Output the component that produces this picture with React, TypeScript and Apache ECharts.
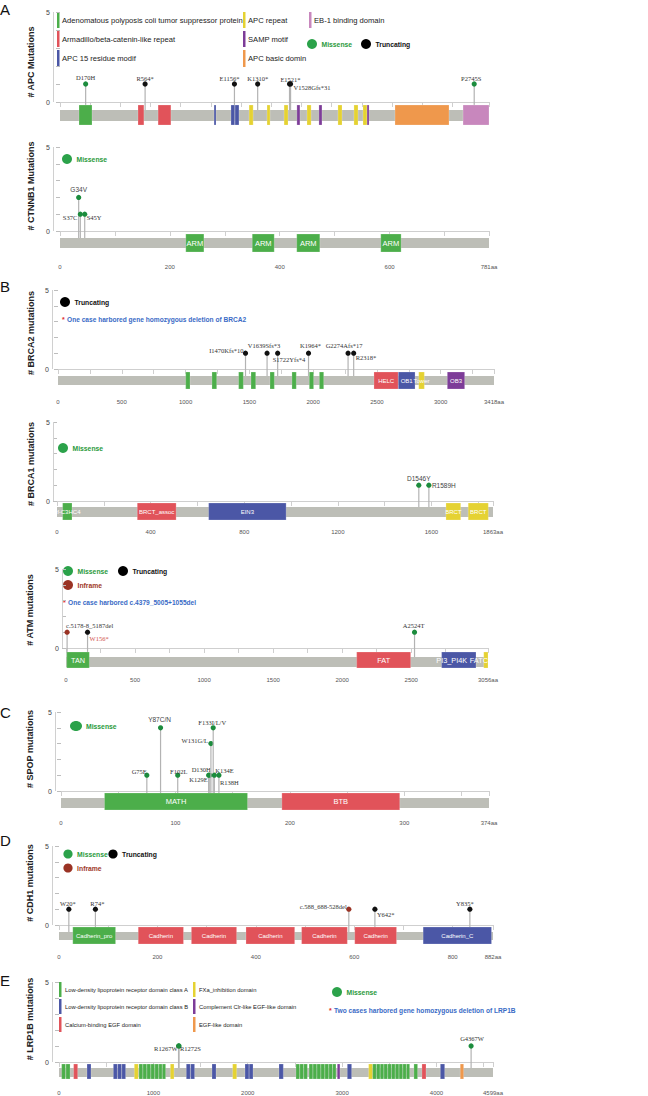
import React, { useEffect, useRef } from "react";
import * as echarts from "echarts";

type Mut = [string, number, number, string];
type Dom = [number, number, string, string];

// ---------------- DATA ----------------
const APC_LENGTH = 2843;
const APC_MUTATIONS: Mut[] = [
  ["D170H", 170, 1, "missense"],
  ["R564*", 564, 1, "truncating"],
  ["E1156*", 1156, 1, "truncating"],
  ["K1310*", 1310, 1, "truncating"],
  ["E1521*", 1521, 1, "truncating"],
  ["V1528Gfs*31", 1528, 1, "truncating"],
  ["P2745S", 2745, 1, "missense"],
];
const APC_DOMAINS: Dom[] = [
  [126, 212, "green", ""],
  [517, 556, "red", ""],
  [650, 735, "red", ""],
  [1021, 1034, "blue", ""],
  [1133, 1158, "blue", ""],
  [1160, 1186, "blue", ""],
  [1253, 1280, "yellow", ""],
  [1372, 1392, "yellow", ""],
  [1485, 1511, "yellow", ""],
  [1570, 1590, "purple", ""],
  [1637, 1664, "yellow", ""],
  [1716, 1736, "purple", ""],
  [1842, 1869, "yellow", ""],
  [1948, 1975, "yellow", ""],
  [2008, 2035, "yellow", ""],
  [2035, 2048, "purple", ""],
  [2220, 2578, "orange", ""],
  [2671, 2843, "pink", ""],
];
const APC_TICKS = [0, 200, 400, 600, 800, 1000, 1200, 1400, 1600, 1800, 2000, 2200, 2400, 2600, 2843];
const APC_TICK_LABELS: number[] = [];

const CTNNB1_LENGTH = 781;
const CTNNB1_MUTATIONS: Mut[] = [
  ["G34V", 34, 2, "missense"],
  ["S37C", 37, 1, "missense"],
  ["S45Y", 45, 1, "missense"],
];
const CTNNB1_DOMAINS: Dom[] = [
  [229, 262, "green", "ARM"],
  [350, 390, "green", "ARM"],
  [431, 473, "green", "ARM"],
  [584, 621, "green", "ARM"],
];
const CTNNB1_TICKS = [0, 100, 200, 300, 400, 500, 600, 700, 781];
const CTNNB1_TICK_LABELS = [0, 200, 400, 600, 781];

const BRCA2_LENGTH = 3418;
const BRCA2_MUTATIONS: Mut[] = [
  ["I1470Kfs*10", 1470, 1, "truncating"],
  ["V1639Sfs*3", 1639, 1, "truncating"],
  ["S1722Yfs*4", 1722, 1, "truncating"],
  ["K1964*", 1964, 1, "truncating"],
  ["G2274Afs*17", 2274, 1, "truncating"],
  ["R2318*", 2318, 1, "truncating"],
];
const BRCA2_DOMAINS: Dom[] = [
  [1001, 1035, "green", ""],
  [1207, 1244, "green", ""],
  [1416, 1453, "green", ""],
  [1513, 1550, "green", ""],
  [1662, 1696, "green", ""],
  [1834, 1868, "green", ""],
  [1970, 2004, "green", ""],
  [2049, 2083, "green", ""],
  [2477, 2668, "red", "HELC"],
  [2668, 2799, "blue", "OB1"],
  [2828, 2872, "yellow", "Tower"],
  [3052, 3188, "purple", "OB3"],
];
const BRCA2_TICKS = [0, 250, 500, 750, 1000, 1250, 1500, 1750, 2000, 2250, 2500, 2750, 3000, 3250, 3418];
const BRCA2_TICK_LABELS = [0, 500, 1000, 1500, 2000, 2500, 3000, 3418];

const BRCA1_LENGTH = 1863;
const BRCA1_MUTATIONS: Mut[] = [
  ["D1546Y", 1546, 1, "missense"],
  ["R1589H", 1589, 1, "missense"],
];
const BRCA1_DOMAINS: Dom[] = [
  [24, 64, "green", "zf-C3HC4"],
  [343, 509, "red", "BRCT_assoc"],
  [648, 979, "blue", "EIN3"],
  [1662, 1725, "yellow", "BRCT"],
  [1757, 1843, "yellow", "BRCT"],
];
const BRCA1_TICKS = [0, 200, 400, 600, 800, 1000, 1200, 1400, 1600, 1800, 1863];
const BRCA1_TICK_LABELS = [0, 400, 800, 1200, 1600, 1863];

const ATM_LENGTH = 3056;
const ATM_MUTATIONS: Mut[] = [
  ["c.5178-8_5187del", 8, 1, "inframe"],
  ["W156*", 156, 1, "truncating"],
  ["A2524T", 2524, 1, "missense"],
];
const ATM_DOMAINS: Dom[] = [
  [5, 169, "green", "TAN"],
  [2105, 2496, "red", "FAT"],
  [2720, 2969, "blue", "PI3_PI4K"],
  [3025, 3056, "yellow", "FATC"],
];
const ATM_TICKS = [0, 250, 500, 750, 1000, 1250, 1500, 1750, 2000, 2250, 2500, 2750, 3056];
const ATM_TICK_LABELS = [0, 500, 1000, 1500, 2000, 2500, 3056];

const SPOP_LENGTH = 374;
const SPOP_MUTATIONS: Mut[] = [
  ["G75E", 75, 1, "missense"],
  ["Y87C/N", 87, 4, "missense"],
  ["F102L", 102, 1, "missense"],
  ["K129E", 129, 1, "missense"],
  ["D130H", 130, 1, "missense"],
  ["W131G/L", 131, 3, "missense"],
  ["F133I/L/V", 133, 4, "missense"],
  ["K134E", 134, 1, "missense"],
  ["R138H", 138, 1, "missense"],
];
const SPOP_DOMAINS: Dom[] = [
  [38, 163, "green", "MATH"],
  [193, 296, "red", "BTB"],
];
const SPOP_TICKS = [0, 50, 100, 150, 200, 250, 300, 350, 374];
const SPOP_TICK_LABELS = [0, 100, 200, 300, 374];

const CDH1_LENGTH = 882;
const CDH1_MUTATIONS: Mut[] = [
  ["W20*", 20, 1, "truncating"],
  ["R74*", 74, 1, "truncating"],
  ["c.588_688-528del", 589, 1, "inframe"],
  ["Y642*", 642, 1, "truncating"],
  ["Y835*", 835, 1, "truncating"],
];
const CDH1_DOMAINS: Dom[] = [
  [28, 115, "green", "Cadherin_pro"],
  [161, 253, "red", "Cadherin"],
  [269, 361, "red", "Cadherin"],
  [380, 479, "red", "Cadherin"],
  [493, 586, "red", "Cadherin"],
  [601, 686, "red", "Cadherin"],
  [740, 879, "blue", "Cadherin_C"],
];
const CDH1_TICKS = [0, 100, 200, 300, 400, 500, 600, 700, 800, 882];
const CDH1_TICK_LABELS = [0, 200, 400, 600, 800, 882];

const LRP1B_LENGTH = 4599;
const LRP1B_MUTATIONS: Mut[] = [
  ["R1267W", 1267, 1, "missense"],
  ["R1272S", 1272, 1, "missense"],
  ["G4367W", 4367, 1, "missense"],
];
const LRP1B_DOMAINS: Dom[] = [
  [28, 70, "green", ""], [74, 117, "green", ""],
  [155, 198, "red", ""],
  [297, 339, "blue", ""],
  [576, 618, "blue", ""], [621, 663, "blue", ""], [665, 706, "blue", ""],
  [798, 841, "yellow", ""],
  [848, 888, "green", ""], [890, 930, "green", ""], [932, 972, "green", ""], [974, 1014, "green", ""],
  [1016, 1056, "green", ""], [1058, 1093, "green", ""], [1095, 1130, "green", ""],
  [1180, 1219, "yellow", ""],
  [1349, 1391, "blue", ""], [1395, 1437, "blue", ""],
  [1621, 1664, "blue", ""],
  [1840, 1883, "yellow", ""],
  [1971, 2013, "blue", ""], [2015, 2056, "blue", ""],
  [2331, 2377, "blue", ""],
  [2511, 2550, "green", ""], [2552, 2592, "green", ""], [2594, 2632, "green", ""],
  [2650, 2690, "green", ""], [2692, 2732, "green", ""], [2734, 2774, "green", ""], [2776, 2816, "green", ""],
  [2818, 2858, "green", ""], [2860, 2898, "green", ""], [2900, 2935, "green", ""],
  [2949, 2977, "purple", ""],
  [3055, 3101, "blue", ""],
  [3281, 3324, "yellow", ""],
  [3324, 3362, "green", ""], [3364, 3402, "green", ""], [3404, 3442, "green", ""], [3444, 3482, "green", ""],
  [3484, 3522, "green", ""], [3524, 3562, "green", ""], [3564, 3602, "green", ""], [3604, 3642, "green", ""],
  [3644, 3680, "green", ""], [3682, 3716, "green", ""],
  [3761, 3800, "green", ""],
  [3846, 3889, "red", ""],
  [4041, 4087, "blue", ""],
  [4252, 4288, "orange", ""],
];
const LRP1B_TICKS = [0, 500, 1000, 1500, 2000, 2500, 3000, 3500, 4000, 4500, 4599];
const LRP1B_TICK_LABELS = [0, 1000, 2000, 3000, 4000, 4599];

const APC_LEGEND: [string, string][] = [
  ["Adenomatous polyposis coli tumor suppressor protein", "green"],
  ["Armadillo/beta-catenin-like repeat", "red"],
  ["APC 15 residue modif", "blue"],
  ["APC repeat", "yellow"],
  ["SAMP motif", "purple"],
  ["APC basic domin", "orange"],
  ["EB-1 binding domain", "pink"],
];
const LRP1B_LEGEND: [string, string][] = [
  ["Low-density lipoprotein receptor domain class A", "green"],
  ["Low-density lipoprotein receptor domain class B", "blue"],
  ["Calcium-binding EGF domain", "red"],
  ["FXa_inhibition domain", "yellow"],
  ["Complement Clr-like EGF-like domain", "purple"],
  ["EGF-like domain", "orange"],
];
const NOTE_BRCA2 = "One case harbored gene homozygous deletion of BRCA2";
const NOTE_ATM = "One case harbored c.4379_5005+1055del";
const NOTE_LRP1B = "Two cases harbored gene homozygous deletion of LRP1B";

// ---------------- STYLE / LAYOUT ----------------
const SANS = "Liberation Sans, Arial, sans-serif";
const SERIF = "Liberation Serif, Times New Roman, serif";
const DOMAIN_FILL: Record<string, string> = {
  green: "#4cae4a", red: "#e1535a", blue: "#4b57a6", yellow: "#e5d232",
  purple: "#7d3c98", orange: "#ef984c", pink: "#c887bd",
};
const MUT_FILL: Record<string, string> = { missense: "#1c8c3d", truncating: "#111111", inframe: "#9a3324" };
const LEG_FILL: Record<string, string> = { missense: "#2ba24a", truncating: "#000000", inframe: "#9a3324" };
const LEG_TEXT: Record<string, string> = { missense: "#2a9a3c", truncating: "#111111", inframe: "#a03a2a" };
const BACKBONE = "#bdbeb7";
const NOTE_BLUE = "#3a6bc6";
// horizontal shift of some domain labels
const DOMAIN_LABEL_DX: Record<string, number> = { "PI3_PI4K": -7, "FATC": -7 };

// label placement: [align, dx, dy, font?, color?]
const LABEL_STYLE: Record<string, [string, number, number, string?, string?]> = {
  "D170H": ["center", 0, -7], "R564*": ["center", 0, -6], "E1156*": ["center", -5, -6],
  "K1310*": ["center", 0, -6], "E1521*": ["center", 1, -5], "V1528Gfs*31": ["left", 3, 3],
  "P2745S": ["center", -3, -6],
  "G34V": ["center", 0, -8, "sans", "#444"], "S37C": ["right", -3, 3], "S45Y": ["left", 2, 3],
  "I1470Kfs*10": ["right", -2, -3], "V1639Sfs*3": ["center", -3, -8], "S1722Yfs*4": ["left", -5, 6],
  "K1964*": ["center", 2, -8], "G2274Afs*17": ["center", -4, -8], "R2318*": ["left", 2, 4],
  "D1546Y": ["center", 0, -7, "sans", "#444"], "R1589H": ["left", 3, 0, "sans", "#444"],
  "c.5178-8_5187del": ["left", -1, -7], "W156*": ["left", 2, 6, undefined, "#d0504a"], "A2524T": ["center", -1, -7],
  "G75E": ["right", 0, -4], "Y87C/N": ["center", -1, -8, "sans", "#444"], "F102L": ["center", 1, -4],
  "D130H": ["right", 1, -6], "K129E": ["right", -1, 4], "W131G/L": ["right", -3, -3],
  "F133I/L/V": ["center", -1, -5], "K134E": ["left", 1, -5], "R138H": ["left", 1, 7],
  "W20*": ["center", -1, -6], "R74*": ["center", 2, -6], "c.588_688-528del": ["right", -2, -3],
  "Y642*": ["left", 2, 5], "Y835*": ["center", -5, -6],
  "R1267W": ["right", -1, 2], "R1272S": ["left", 1, 2], "G4367W": ["center", 1, -8],
};

interface Layout {
  left: number; right: number; y5: number; y0: number; axis: number;
  bb: [number, number]; dom: [number, number]; yOff: number; labelY: number; domFont: number;
  titleX: number; titleY: number;
}
const LAYOUT: Record<string, Layout> = {
  APC: { left: 60, right: 489, y5: 12, y0: 102, axis: 127, bb: [110, 121], dom: [105, 125], yOff: 7, labelY: 138, domFont: 7, titleX: 31, titleY: 62 },
  CTNNB1: { left: 60, right: 489, y5: 147, y0: 231, axis: 256, bb: [238, 248], dom: [234, 252], yOff: 7, labelY: 267, domFont: 7.5, titleX: 31, titleY: 186 },
  BRCA2: { left: 58, right: 494, y5: 290, y0: 369, axis: 392, bb: [376, 385], dom: [372, 389], yOff: 6, labelY: 402, domFont: 6, titleX: 31, titleY: 333 },
  BRCA1: { left: 57, right: 493, y5: 422, y0: 501, axis: 522, bb: [507, 517], dom: [503, 520], yOff: 4, labelY: 532, domFont: 6, titleX: 31, titleY: 464 },
  ATM: { left: 66, right: 488, y5: 569, y0: 648, axis: 672, bb: [657, 667], dom: [652, 668], yOff: 4, labelY: 680, domFont: 7.3, titleX: 30, titleY: 610 },
  SPOP: { left: 61, right: 489, y5: 712, y0: 791, axis: 813, bb: [798, 808], dom: [793, 810], yOff: 6, labelY: 823, domFont: 7.5, titleX: 30, titleY: 749 },
  CDH1: { left: 59, right: 493, y5: 846, y0: 925, axis: 948, bb: [932, 940], dom: [927, 944], yOff: 7, labelY: 957, domFont: 6, titleX: 30, titleY: 883 },
  LRP1B: { left: 59, right: 493, y5: 982, y0: 1062, axis: 1082, bb: [1068, 1077], dom: [1064, 1079], yOff: 7, labelY: 1093, domFont: 6, titleX: 30, titleY: 1019 },
};

const PANELS = [
  { key: "APC", title: "# APC Mutations", len: APC_LENGTH, muts: APC_MUTATIONS, doms: APC_DOMAINS, ticks: APC_TICKS, labels: APC_TICK_LABELS },
  { key: "CTNNB1", title: "# CTNNB1 Mutations", len: CTNNB1_LENGTH, muts: CTNNB1_MUTATIONS, doms: CTNNB1_DOMAINS, ticks: CTNNB1_TICKS, labels: CTNNB1_TICK_LABELS },
  { key: "BRCA2", title: "# BRCA2 mutations", len: BRCA2_LENGTH, muts: BRCA2_MUTATIONS, doms: BRCA2_DOMAINS, ticks: BRCA2_TICKS, labels: BRCA2_TICK_LABELS },
  { key: "BRCA1", title: "# BRCA1 mutations", len: BRCA1_LENGTH, muts: BRCA1_MUTATIONS, doms: BRCA1_DOMAINS, ticks: BRCA1_TICKS, labels: BRCA1_TICK_LABELS },
  { key: "ATM", title: "# ATM mutations", len: ATM_LENGTH, muts: ATM_MUTATIONS, doms: ATM_DOMAINS, ticks: ATM_TICKS, labels: ATM_TICK_LABELS },
  { key: "SPOP", title: "# SPOP mutations", len: SPOP_LENGTH, muts: SPOP_MUTATIONS, doms: SPOP_DOMAINS, ticks: SPOP_TICKS, labels: SPOP_TICK_LABELS },
  { key: "CDH1", title: "# CDH1 mutations", len: CDH1_LENGTH, muts: CDH1_MUTATIONS, doms: CDH1_DOMAINS, ticks: CDH1_TICKS, labels: CDH1_TICK_LABELS },
  { key: "LRP1B", title: "# LRP1B mutations", len: LRP1B_LENGTH, muts: LRP1B_MUTATIONS, doms: LRP1B_DOMAINS, ticks: LRP1B_TICKS, labels: LRP1B_TICK_LABELS },
];

// ---------------- BUILD ----------------
function buildOption() {
  const grid: any[] = [], xAxis: any[] = [], yAxis: any[] = [], series: any[] = [];
  PANELS.forEach((p, i) => {
    const L = LAYOUT[p.key];
    const unit = (L.y0 - L.y5) / 5;
    const yMin = -(L.axis - L.y0) / unit;
    grid.push({ left: L.left, top: L.y5, width: L.right - L.left, height: L.axis - L.y5 });
    xAxis.push({
      type: "value", gridIndex: i, min: 0, max: p.len,
      axisLine: { show: true, lineStyle: { color: "#cfcfcf", width: 1 } },
      axisTick: { show: true, customValues: p.ticks, length: 5, lineStyle: { color: "#cfcfcf" } },
      axisLabel: {
        show: p.labels.length > 0, customValues: p.labels, fontSize: 6, color: "#555", fontFamily: SANS,
        margin: Math.max(2, L.labelY - 3 - L.axis),
        formatter: (v: number) => (v === p.len ? v + "aa" : String(v)),
      },
      splitLine: { show: false },
    });
    yAxis.push({
      type: "value", gridIndex: i, min: yMin, max: 5, offset: L.yOff,
      axisLine: { show: false },
      axisTick: { show: true, customValues: [0, 1, 2, 3, 4, 5], length: 4, lineStyle: { color: "#bdbdbd" } },
      axisLabel: { show: true, customValues: [0, 5], fontSize: 7, color: "#444", fontFamily: SANS, margin: 3 },
      splitLine: { show: false },
    });
    // backbone
    series.push({
      type: "custom", xAxisIndex: i, yAxisIndex: i, z: 1, silent: true,
      data: [[0, p.len]],
      renderItem: (_: any, api: any) => {
        const a = api.coord([api.value(0), 0]);
        const b = api.coord([api.value(1), 0]);
        return {
          type: "rect",
          shape: { x: a[0], y: a[1] + (L.bb[0] - L.y0), width: b[0] - a[0], height: L.bb[1] - L.bb[0] },
          style: { fill: BACKBONE },
        };
      },
    });
    // y axis line from 0 to 5
    series.push({
      type: "custom", xAxisIndex: i, yAxisIndex: i, z: 1, silent: true,
      data: [[0, 5]],
      renderItem: (_: any, api: any) => {
        const a = api.coord([0, 0]);
        const b = api.coord([0, api.value(1)]);
        const x = a[0] - L.yOff + 0.5;
        return { type: "line", shape: { x1: x, y1: a[1], x2: x, y2: b[1] }, style: { stroke: "#d0d0d0", lineWidth: 1 } };
      },
    });
    // lollipops
    series.push({
      type: "custom", xAxisIndex: i, yAxisIndex: i, z: 2, silent: true,
      data: p.muts.map((m) => [m[1], m[2]]),
      renderItem: (params: any, api: any) => {
        const m = p.muts[params.dataIndex];
        const pt = api.coord([api.value(0), api.value(1)]);
        const base = api.coord([api.value(0), 0])[1] + (L.bb[0] - L.y0);
        const st = LABEL_STYLE[m[0]] || ["center", 0, -7];
        return {
          type: "group",
          children: [
            { type: "line", shape: { x1: pt[0], y1: pt[1], x2: pt[0], y2: base }, style: { stroke: "#b3b3b3", lineWidth: 1.2 } },
            { type: "circle", shape: { cx: pt[0], cy: pt[1], r: 2.6 }, style: { fill: MUT_FILL[m[3]] } },
            {
              type: "text",
              style: {
                text: m[0], x: pt[0] + st[1], y: pt[1] + st[2], align: st[0], verticalAlign: "middle",
                fontSize: 6.5, fontFamily: st[3] === "sans" ? SANS : SERIF,
                fill: st[4] || "#333",
              },
            },
          ],
        };
      },
    });
    // domains
    series.push({
      type: "custom", xAxisIndex: i, yAxisIndex: i, z: 3, silent: true,
      data: p.doms.map((d) => [d[0], d[1]]),
      renderItem: (params: any, api: any) => {
        const d = p.doms[params.dataIndex];
        const a = api.coord([api.value(0), 0]);
        const b = api.coord([api.value(1), 0]);
        const top = a[1] + (L.dom[0] - L.y0);
        const h = L.dom[1] - L.dom[0];
        const children: any[] = [
          { type: "rect", shape: { x: a[0], y: top, width: b[0] - a[0], height: h }, style: { fill: DOMAIN_FILL[d[2]], stroke: "rgba(255,255,255,0.35)", lineWidth: 0.6 } },
        ];
        if (d[3]) {
          children.push({
            type: "text", z2: 10,
            style: { text: d[3], x: (a[0] + b[0]) / 2 + (DOMAIN_LABEL_DX[d[3]] || 0), y: top + h / 2, align: "center", verticalAlign: "middle", fill: "#ffffff", fontSize: L.domFont, fontFamily: SANS },
          });
        }
        return { type: "group", children };
      },
    });
  });

  // ---------- graphics ----------
  const g: any[] = [];
  const txt = (x: number, y: number, text: string, o: any = {}) =>
    g.push({ type: "text", x, y, silent: true, style: { text, fontFamily: SANS, fontSize: 8, fill: "#222", align: "left", verticalAlign: "middle", ...o } });
  const dot = (x: number, y: number, r: number, fill: string) => g.push({ type: "circle", silent: true, shape: { cx: x, cy: y, r }, style: { fill } });
  const bar = (x: number, y1: number, y2: number, c: string) => g.push({ type: "rect", silent: true, shape: { x, y: y1, width: 2.5, height: y2 - y1 }, style: { fill: DOMAIN_FILL[c] } });
  const mutLeg = (x: number, y: number, type: string, label: string, r = 5) => {
    dot(x, y, r, LEG_FILL[type]);
    txt(x + r + 4.5, y, label, { fontWeight: "bold", fontSize: 6.8, fill: LEG_TEXT[type] });
  };
  const note = (x: number, y: number, text: string) => {
    txt(x, y + 0.5, "*", { fill: "#e03030", fontSize: 7, fontWeight: "bold" });
    txt(x + 5, y, text, { fill: NOTE_BLUE, fontSize: 6.6, fontWeight: "bold" });
  };

  // panel letters
  [["A", 2], ["B", 279], ["C", 705], ["D", 833], ["E", 973]].forEach(([l, y]) =>
    g.push({ type: "text", x: 0, y: y as number, silent: true, style: { text: l as string, fontFamily: SANS, fontSize: 15, fill: "#111", verticalAlign: "top" } }));

  // y-axis titles
  PANELS.forEach((p) => {
    const L = LAYOUT[p.key];
    g.push({ type: "text", x: L.titleX, y: L.titleY, rotation: Math.PI / 2, silent: true, style: { text: p.title, fontFamily: SANS, fontSize: 9, fontWeight: "bold", fill: "#222", align: "center", verticalAlign: "middle" } });
  });

  // APC legend
  const apcCols = [57, 57, 57, 243, 243, 243, 309];
  const apcRows = [[12, 28], [31, 47], [50, 67]];
  APC_LEGEND.forEach((e, k) => {
    const r = apcRows[k < 6 ? k % 3 : 0];
    bar(apcCols[k], r[0], r[1], e[1]);
    txt(apcCols[k] + 5, (r[0] + r[1]) / 2, e[0], { fontSize: 7.6 });
  });
  mutLeg(312, 44, "missense", "Missense");
  mutLeg(366, 44, "truncating", "Truncating");

  // CTNNB1
  mutLeg(67, 159, "missense", "Missense");
  // BRCA2
  mutLeg(65, 302, "truncating", "Truncating");
  note(62, 319, NOTE_BRCA2);
  // BRCA1
  mutLeg(63, 448, "missense", "Missense");
  // ATM
  mutLeg(68, 571, "missense", "Missense");
  mutLeg(123, 571, "truncating", "Truncating");
  mutLeg(68, 585, "inframe", "Inframe");
  note(63, 602, NOTE_ATM);
  // SPOP
  g.push({ type: "ellipse", silent: true, shape: { cx: 76, cy: 726, rx: 6, ry: 5 }, style: { fill: LEG_FILL.missense } });
  txt(86, 726, "Missense", { fontWeight: "bold", fontSize: 6.8, fill: LEG_TEXT.missense });
  // CDH1
  mutLeg(68, 854, "missense", "Missense", 4.6);
  mutLeg(113, 854, "truncating", "Truncating", 4.6);
  mutLeg(68, 868, "inframe", "Inframe", 4.6);
  // LRP1B legend
  const lCols = [59, 59, 59, 193, 193, 193];
  const lRows = [[982, 997], [999, 1014], [1017, 1032]];
  LRP1B_LEGEND.forEach((e, k) => {
    const r = lRows[k % 3];
    bar(lCols[k], r[0], r[1], e[1]);
    txt(lCols[k] + 6, (r[0] + r[1]) / 2, e[0], { fontSize: 5.8 });
  });
  mutLeg(337, 992, "missense", "Missense");
  note(329, 1010, NOTE_LRP1B);

  return { animation: false, backgroundColor: "#ffffff", grid, xAxis, yAxis, series, graphic: g };
}

export default function App() {
  const ref = useRef<HTMLDivElement>(null);
  useEffect(() => {
    document.body.style.margin = "0";
    if (!ref.current) return;
    const chart = echarts.init(ref.current, undefined, { renderer: "svg" });
    chart.setOption(buildOption());
    return () => chart.dispose();
  }, []);
  return <div ref={ref} style={{ width: 648, height: 1096 }} />;
}
